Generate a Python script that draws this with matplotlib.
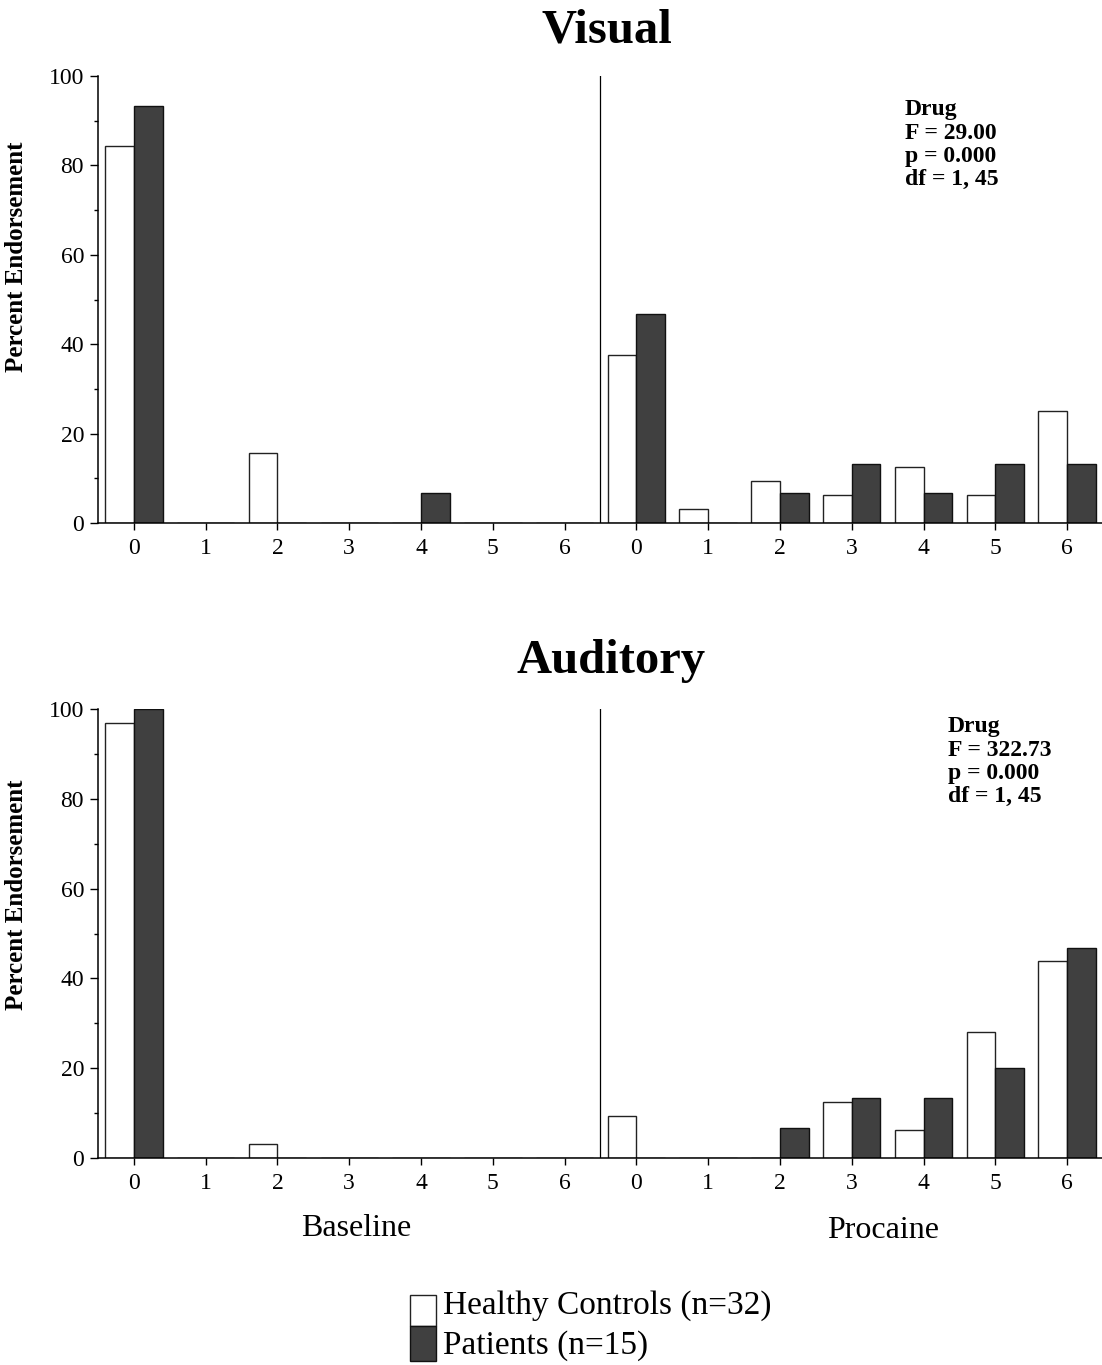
import numpy as np
import matplotlib
matplotlib.use("Agg")
import matplotlib.pyplot as plt
from matplotlib.patches import Rectangle

plt.rcParams["font.family"] = ["Liberation Serif", "DejaVu Serif"]

# Endorsement score categories (shown once for baseline, once for procaine)
scores = np.arange(7)
score_labels = [str(s) for s in scores] * 2

# Percent endorsement per score
visual_base_hc = [84.4, 0, 15.6, 0, 0, 0, 0]
visual_base_pt = [93.3, 0, 0, 0, 6.7, 0, 0]
visual_proc_hc = [37.5, 3.1, 9.4, 6.3, 12.5, 6.3, 25.0]
visual_proc_pt = [46.7, 0, 6.7, 13.3, 6.7, 13.3, 13.3]

aud_base_hc = [96.9, 0, 3.1, 0, 0, 0, 0]
aud_base_pt = [100.0, 0, 0, 0, 0, 0, 0]
aud_proc_hc = [9.4, 0, 0, 12.5, 6.3, 28.1, 43.8]
aud_proc_pt = [0, 0, 6.7, 13.3, 13.3, 20.0, 46.7]

visual_stats = ["Drug", "F = 29.00", "p = 0.000", "df = 1, 45"]
aud_stats = ["Drug", "F = 322.73", "p = 0.000", "df = 1, 45"]

W, H = 1102, 1365
fig = plt.figure(figsize=(W / 100, H / 100), dpi=100)

DARK = "#404040"
BW = 0.4


def panel(rect, title, base_hc, base_pt, proc_hc, proc_pt, stats, stats_xy, title_xy):
    ax = fig.add_axes(rect)
    hc = np.concatenate([base_hc, proc_hc])
    pt = np.concatenate([base_pt, proc_pt])
    x = np.concatenate([scores, scores + 7])
    ax.bar(x - BW, hc, width=BW, align="edge", color="white",
           edgecolor="#222222", linewidth=1.0)
    ax.bar(x, pt, width=BW, align="edge", color=DARK,
           edgecolor="#111111", linewidth=1.0)

    # divider between baseline and procaine sessions
    ax.axvline(6.5, color="black", linewidth=0.9)

    ax.set_xlim(-0.5, 13.5)
    ax.set_ylim(0, 100)
    ax.set_xticks(np.arange(14))
    ax.set_xticklabels(score_labels)
    ax.set_yticks(np.arange(0, 101, 20))
    ax.set_yticks(np.arange(10, 100, 20), minor=True)
    ax.tick_params(axis="both", which="major", labelsize=17, width=1.0)
    ax.tick_params(axis="y", which="major", length=6, pad=4)
    ax.tick_params(axis="y", which="minor", length=3, width=1.0)
    ax.tick_params(axis="x", length=5, pad=6)
    for s in ("top", "right"):
        ax.spines[s].set_visible(False)
    for s in ("left", "bottom"):
        ax.spines[s].set_linewidth(1.1)

    ax.text(stats_xy[0], stats_xy[1], "\n".join(stats), fontsize=17,
            fontweight="bold", va="top", ha="left", linespacing=1.15)
    ax.text(title_xy[0], title_xy[1], title, transform=ax.transAxes,
            fontsize=35, fontweight="bold", ha="center", va="baseline")
    return ax


top_rect = [98 / W, 1 - 523 / H, 1005 / W, 447 / H]
bot_rect = [98 / W, 1 - 1158 / H, 1005 / W, 449 / H]

panel(top_rect, "Visual", visual_base_hc, visual_base_pt, visual_proc_hc,
      visual_proc_pt, visual_stats, (10.74, 94.8), (0.506, 1.075))
panel(bot_rect, "Auditory", aud_base_hc, aud_base_pt, aud_proc_hc,
      aud_proc_pt, aud_stats, (11.34, 98.4), (0.511, 1.08))

# y-axis labels
for yc in (257, 895):
    fig.text(17 / W, 1 - yc / H, "Percent Endorsement", rotation=90,
             fontsize=18, fontweight="bold", ha="center", va="center")

# session labels
fig.text(356 / W, 1 - 1228 / H, "Baseline", fontsize=23, ha="center", va="center")
fig.text(883 / W, 1 - 1231 / H, "Procaine", fontsize=23, ha="center", va="center")

# legend
fig.add_artist(Rectangle((410 / W, 1 - 1326 / H), 26 / W, 31 / H,
                         transform=fig.transFigure, facecolor="white",
                         edgecolor="#222222", linewidth=1.0))
fig.add_artist(Rectangle((410 / W, 1 - 1361 / H), 26 / W, 35 / H,
                         transform=fig.transFigure, facecolor=DARK,
                         edgecolor="#111111", linewidth=1.0))
fig.text(443 / W, 1 - 1306 / H, "Healthy Controls (n=32)", fontsize=24,
         ha="left", va="center")
fig.text(443 / W, 1 - 1346 / H, "Patients (n=15)", fontsize=24,
         ha="left", va="center")

fig.savefig("out.png", dpi=100, facecolor="white")
